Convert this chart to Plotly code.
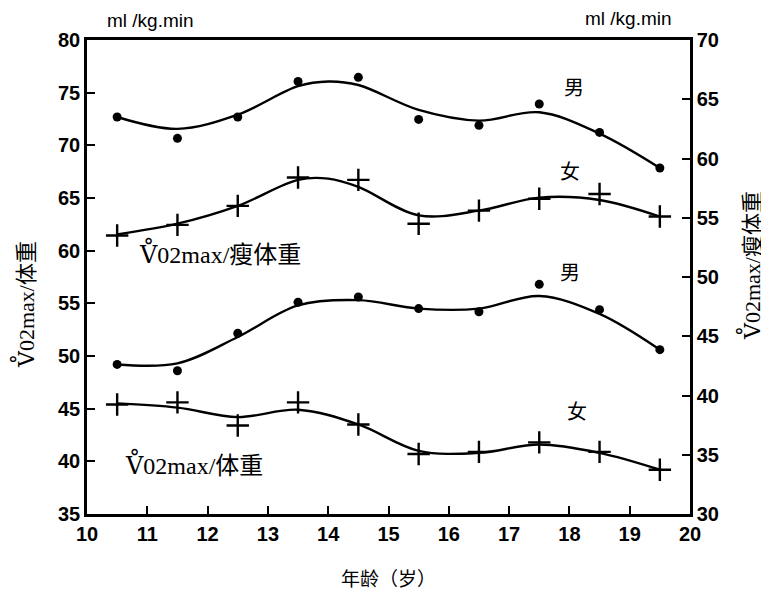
import plotly.graph_objects as go

# ---- data ----
ages = [10.5, 11.5, 12.5, 13.5, 14.5, 15.5, 16.5, 17.5, 18.5, 19.5]

# VO2max / lean body weight (right axis)
lean_male_pts = [63.5, 61.7, 63.5, 66.5, 66.85, 63.3, 62.8, 64.6, 62.2, 59.2]
lean_female_pts = [53.5, 54.4, 56.0, 58.4, 58.2, 54.5, 55.6, 56.6, 57.0, 55.1]
# VO2max / body weight (left axis)
bw_male_pts = [49.2, 48.6, 52.15, 55.1, 55.6, 54.5, 54.2, 56.8, 54.4, 50.6]
bw_female_pts = [45.4, 45.6, 43.4, 45.6, 43.5, 40.7, 40.9, 41.8, 40.9, 39.2]

# hand-drawn smoothing curves (values read at each knot)
curve_ages_peak = [10.5, 11.5, 12.5, 13.5, 14.0, 14.5, 15.5, 16.5, 17.5, 18.5, 19.5]
lean_male_curve = [63.5, 62.5, 63.7, 66.1, 66.5, 66.2, 64.1, 63.2, 63.9, 62.1, 59.2]
lean_female_curve = [53.6, 54.5, 56.0, 58.2, 58.3, 57.6, 55.2, 55.6, 56.7, 56.5, 55.1]
bw_male_curve = [49.2, 49.3, 51.8, 54.8, 55.3, 54.5, 54.5, 55.7, 54.0, 50.6]
bw_female_curve = [45.5, 45.1, 44.2, 44.9, 43.5, 41.0, 40.8, 41.6, 40.8, 39.2]

x_ticks = [10, 11, 12, 13, 14, 15, 16, 17, 18, 19, 20]
left_ticks = [35, 40, 45, 50, 55, 60, 65, 70, 75, 80]
right_ticks = [30, 35, 40, 45, 50, 55, 60, 65, 70]

# page has an 8px body margin; size the figure so it fills the 769x594 window
OFF = 8
W, H = 769 - OFF, 594 - OFF
PL, PR, PT, PB = 87, 690, 40, 514          # plot box in window pixels
ML, MT = PL - OFF, PT - OFF
MR, MB = W - (PR - OFF), H - (PB - OFF)

fig = go.Figure()
line_style = dict(color="black", width=2.4, shape="spline", smoothing=1.0)

fig.add_trace(go.Scatter(x=curve_ages_peak, y=lean_male_curve, mode="lines", line=line_style, yaxis="y2", hoverinfo="skip"))
fig.add_trace(go.Scatter(x=curve_ages_peak, y=lean_female_curve, mode="lines", line=line_style, yaxis="y2", hoverinfo="skip"))
fig.add_trace(go.Scatter(x=ages, y=bw_male_curve, mode="lines", line=line_style, hoverinfo="skip"))
fig.add_trace(go.Scatter(x=ages, y=bw_female_curve, mode="lines", line=line_style, hoverinfo="skip"))

dot = dict(symbol="circle", size=9, color="black")
cross = dict(symbol="cross-thin", size=16, color="black", line=dict(color="black", width=2.4))

fig.add_trace(go.Scatter(x=ages, y=lean_male_pts, mode="markers", marker=dot, yaxis="y2"))
fig.add_trace(go.Scatter(x=ages, y=lean_female_pts, mode="markers", marker=cross, yaxis="y2"))
fig.add_trace(go.Scatter(x=ages, y=bw_male_pts, mode="markers", marker=dot))
fig.add_trace(go.Scatter(x=ages, y=bw_female_pts, mode="markers", marker=cross))

tick_font = dict(family="Liberation Sans, Arial, sans-serif", size=20, color="black")
serif = "Liberation Serif, Noto Sans CJK SC, serif"
V = "<span style='font-family:DejaVu Serif'>V̊</span>"

fig.update_layout(
    width=W, height=H,
    margin=dict(l=ML, r=MR, t=MT, b=MB, pad=0),
    paper_bgcolor="white", plot_bgcolor="white",
    showlegend=False,
    xaxis=dict(range=[10, 20], tickvals=x_ticks, ticktext=[f"<b>{v}</b>" for v in x_ticks],
               ticks="inside", ticklen=8, tickwidth=1.5, tickcolor="black",
               showline=True, linecolor="black", linewidth=2.5, mirror=True,
               showgrid=False, zeroline=False, tickfont=tick_font),
    yaxis=dict(range=[35, 80], tickvals=left_ticks, ticktext=[f"<b>{v}</b>" for v in left_ticks],
               ticks="inside", ticklen=8, tickwidth=1.5, tickcolor="black",
               showline=True, linecolor="black", linewidth=2.5,
               showgrid=False, zeroline=False, tickfont=tick_font),
    yaxis2=dict(range=[30, 70], tickvals=right_ticks, ticktext=[f"<b>{v}</b>" for v in right_ticks],
                overlaying="y", side="right",
                ticks="inside", ticklen=8, tickwidth=1.5, tickcolor="black",
                showline=True, linecolor="black", linewidth=2.5,
                showgrid=False, zeroline=False, tickfont=tick_font),
)

cjk = "Noto Sans CJK SC"
ann = [
    # units (window pixel centres)
    dict(text="ml /kg.min", x=150, y=21, font=dict(family="Liberation Sans, sans-serif", size=19)),
    dict(text="ml /kg.min", x=628, y=19, font=dict(family="Liberation Sans, sans-serif", size=19)),
    # series labels
    dict(text="男", x=574, y=86, font=dict(family=cjk, size=20)),
    dict(text="女", x=570, y=170, font=dict(family=cjk, size=20)),
    dict(text=V + "02max/瘦体重", x=220, y=253, font=dict(family=serif, size=24)),
    dict(text="男", x=570, y=271, font=dict(family=cjk, size=20)),
    dict(text="女", x=577, y=410, font=dict(family=cjk, size=20)),
    dict(text=V + "02max/体重", x=194, y=464, font=dict(family=serif, size=24)),
    # axis titles
    dict(text=V + "02max/体重", x=24, y=305, textangle=-90, font=dict(family=serif, size=22)),
    dict(text=V + "02max/瘦体重", x=750, y=266, textangle=-90, font=dict(family=serif, size=22)),
    dict(text="年龄（岁）", x=388, y=577, font=dict(family=cjk, size=19)),
]
pw = PR - PL
ph = PB - PT
for a in ann:
    fig.add_annotation(xref="paper", yref="paper",
                       x=(a["x"] - PL) / pw, y=1 - (a["y"] - PT) / ph,
                       xanchor="center", yanchor="middle",
                       text=a["text"], showarrow=False,
                       textangle=a.get("textangle", 0),
                       font=dict(color="black", **a["font"]))

fig.write_html("out.html")
